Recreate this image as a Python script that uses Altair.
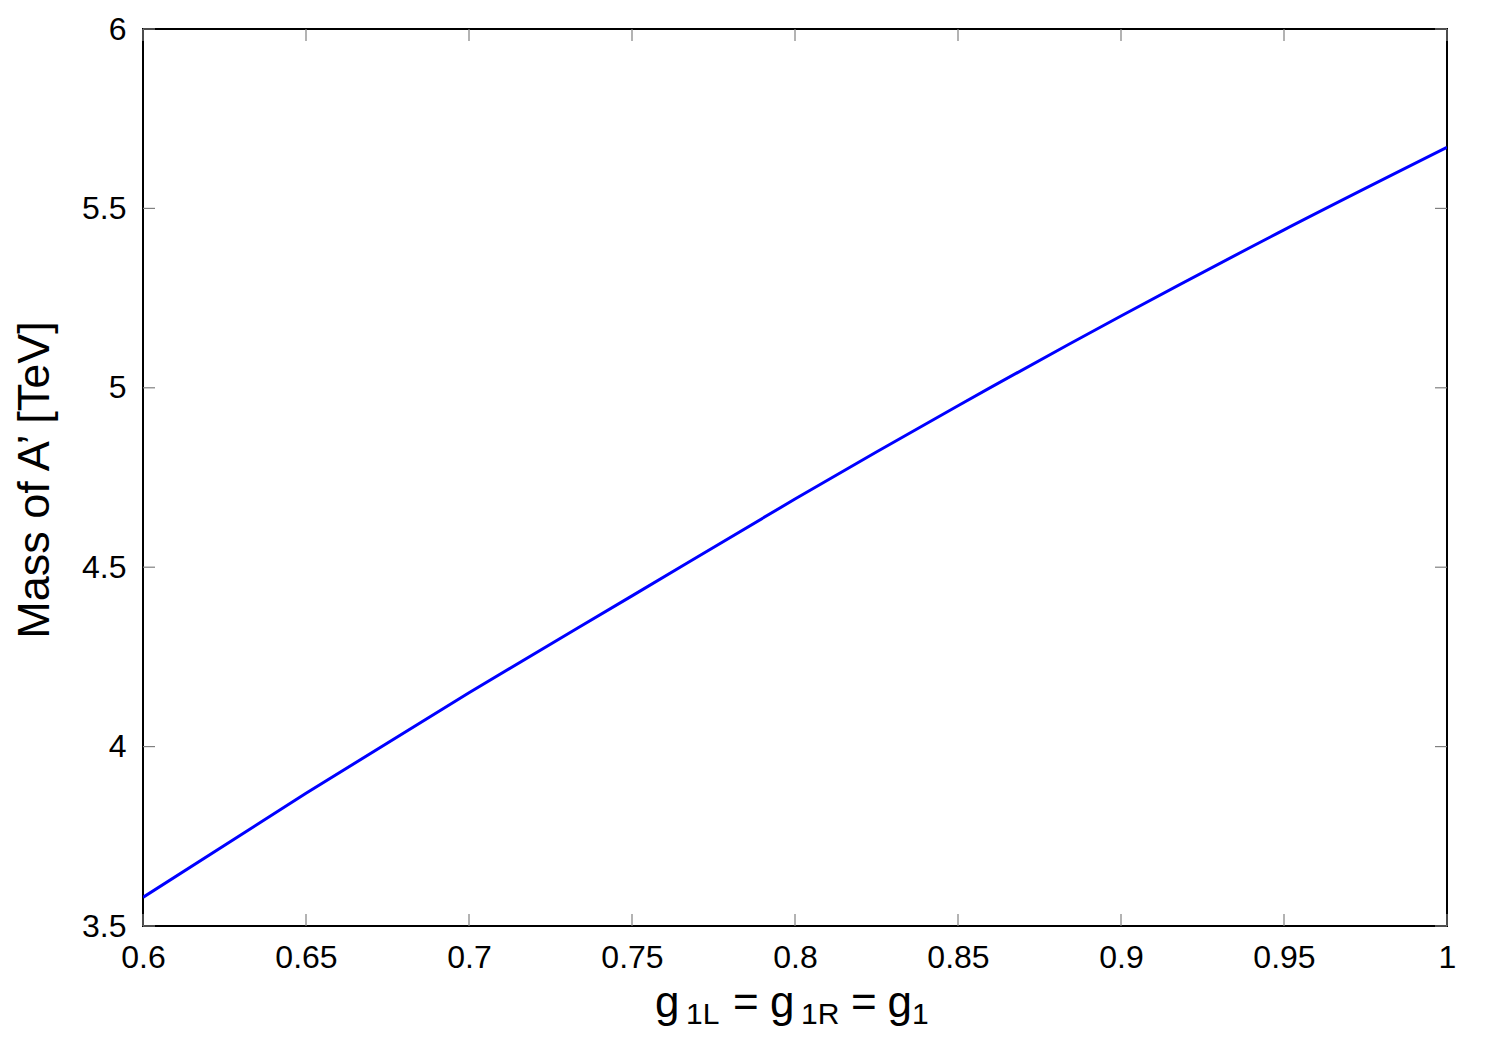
import altair as alt
import pandas as pd

# ---- data ----
g1 = [0.60, 0.65, 0.70, 0.75, 0.80, 0.85, 0.90, 0.95, 1.00]
mass = [3.58, 3.87, 4.15, 4.42, 4.69, 4.95, 5.20, 5.44, 5.67]

x_ticks = [0.6, 0.65, 0.7, 0.75, 0.8, 0.85, 0.9, 0.95, 1.0]
x_tick_labels = ["0.6", "0.65", "0.7", "0.75", "0.8", "0.85", "0.9", "0.95", "1"]
y_ticks = [3.5, 4.0, 4.5, 5.0, 5.5, 6.0]
y_tick_labels = ["3.5", "4", "4.5", "5", "5.5", "6"]

y_title = "Mass of A’ [TeV]"

W, H = 1304, 897
FONT = "Liberation Sans"
TICK_LEN = 12
TICK_COLOR = "#808080"


def label_expr(values, labels):
    expr = "''"
    for v, l in reversed(list(zip(values, labels))):
        expr = f"abs(datum.value - {v}) < 1e-9 ? '{l}' : ({expr})"
    return expr


df = pd.DataFrame({"g1": g1, "mass": mass})
xt = pd.DataFrame({"g1": x_ticks})
yt = pd.DataFrame({"mass": y_ticks})

xscale = alt.Scale(domain=[0.6, 1.0], nice=False, zero=False)
yscale = alt.Scale(domain=[3.5, 6.0], nice=False, zero=False)

x_axis = alt.Axis(
    values=x_ticks,
    labelExpr=label_expr(x_ticks, x_tick_labels),
    ticks=False,
    domain=False,
    grid=False,
    labelFont=FONT,
    labelFontSize=32,
    labelColor="black",
    labelPadding=16,
    labelFlush=False,
    labelOverlap=False,
    title=None,
)
y_axis = alt.Axis(
    values=y_ticks,
    labelExpr=label_expr(y_ticks, y_tick_labels),
    ticks=False,
    domain=False,
    grid=False,
    labelFont=FONT,
    labelFontSize=32,
    labelColor="black",
    labelPadding=17,
    labelFlush=False,
    labelOverlap=False,
    title=y_title,
    titleFont=FONT,
    titleFontSize=45,
    titleFontWeight="normal",
    titleColor="black",
    titleAngle=-90,
    titleAlign="center",
    titleBaseline="middle",
    titleX=-109,
    titleY=H / 2 + 2,
)

line = alt.Chart(df).mark_line(
    color="#0000ff", strokeWidth=3, clip=True, interpolate="monotone"
).encode(
    x=alt.X("g1:Q", scale=xscale, axis=x_axis),
    y=alt.Y("mass:Q", scale=yscale, axis=y_axis),
)

rule_kw = dict(color=TICK_COLOR, strokeWidth=1.2)
bottom_ticks = alt.Chart(xt).mark_rule(**rule_kw).encode(
    x=alt.X("g1:Q", scale=xscale, axis=x_axis), y=alt.value(H), y2=alt.value(H - TICK_LEN)
)
top_ticks = alt.Chart(xt).mark_rule(**rule_kw).encode(
    x=alt.X("g1:Q", scale=xscale, axis=x_axis), y=alt.value(0), y2=alt.value(TICK_LEN)
)
left_ticks = alt.Chart(yt).mark_rule(**rule_kw).encode(
    y=alt.Y("mass:Q", scale=yscale, axis=y_axis), x=alt.value(0), x2=alt.value(TICK_LEN)
)
right_ticks = alt.Chart(yt).mark_rule(**rule_kw).encode(
    y=alt.Y("mass:Q", scale=yscale, axis=y_axis), x=alt.value(W - TICK_LEN), x2=alt.value(W)
)

# x-axis title with subscripts: g_{1L} = g_{1R} = g_1
MAIN, SUB = 44, 30
BASE_MAIN, BASE_SUB = 988, 995
pieces = [
    ("g", MAIN, 512, BASE_MAIN),
    ("1L", SUB, 543, BASE_SUB),
    ("=", MAIN, 590, BASE_MAIN),
    ("g", MAIN, 627, BASE_MAIN),
    ("1R", SUB, 658, BASE_SUB),
    ("=", MAIN, 708, BASE_MAIN),
    ("g", MAIN, 744.5, BASE_MAIN),
    ("1", SUB, 769, BASE_SUB),
]
title_layers = []
for txt, size, px, py in pieces:
    title_layers.append(
        alt.Chart(pd.DataFrame({"t": [txt]}))
        .mark_text(
            font=FONT, fontSize=size, align="left", baseline="alphabetic", color="black"
        )
        .encode(text="t:N", x=alt.value(px), y=alt.value(py))
    )

chart = (
    alt.layer(line, bottom_ticks, top_ticks, left_ticks, right_ticks, *title_layers)
    .properties(
        width=W,
        height=H,
        autosize=alt.AutoSizeParams(type="none"),
        padding={"left": 135, "top": 21, "right": 40, "bottom": 110},
        background="white",
    )
    .configure_view(stroke="black", strokeWidth=2)
)

chart.save("out.html", embed_options={"renderer": "svg", "actions": False})
